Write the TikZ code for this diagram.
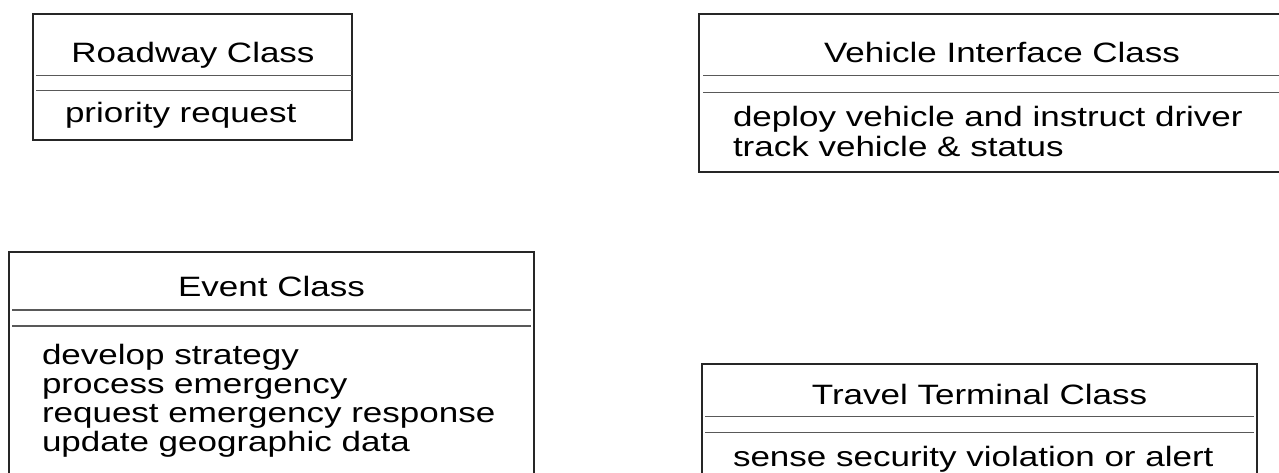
\documentclass[tikz,border=0pt]{standalone}
\usepackage{fontspec}
\setmainfont{Liberation Sans}[FakeStretch=1.25]

\begin{document}
\begin{tikzpicture}[x=1pt, y=-1pt,
            every node/.style={font=\fontsize{28}{29}\selectfont, inner sep=0pt, outer sep=0pt},
            frame/.style={draw=black!85, line width=1.3pt},
            sep/.style={draw=black!65, line width=1.4pt},
            ttl/.style={anchor=base},
            ops/.style={anchor=base west, align=left}
        ]
        \useasboundingbox (0,0) rectangle (1279,473);

        % ================= Roadway Class =================
        \draw[frame] (33,14) rectangle (352,140);
        \draw[sep] (36,75.7) -- (352,75.7);
        \draw[sep] (36,90.7) -- (352,90.7);
        \node[ttl] (road) at (193,62.5) {Roadway Class};
        \node[ops] (roadops) at (65,123) {priority request};

        % ================= Vehicle Interface Class =================
        % (base anchor of a multi-line node sits on its last line)
        \draw[frame] (699,14) rectangle (1305,172);
        \draw[sep] (703,75.7) -- (1302,75.7);
        \draw[sep] (703,92.7) -- (1302,92.7);
        \node[ttl] (veh) at (1002,62.5) {Vehicle Interface Class};
        \node[ops, font=\fontsize{28}{30}\selectfont] (vehops) at (733,157)
        {deploy vehicle and instruct driver\\track vehicle \& status};

        % ================= Event Class =================
        \draw[frame] (9,252) rectangle (534,490);
        \draw[sep] (12,310) -- (531,310);
        \draw[sep] (12,326) -- (531,326);
        \node[ttl] (event) at (271.5,296) {Event Class};
        \node[ops] (eventops) at (42,451.5)
        {develop strategy\\process emergency\\request emergency response\\update geographic data};

        % ================= Travel Terminal Class =================
        \draw[frame] (702,364) rectangle (1257,490);
        \draw[sep] (705,416.3) -- (1254,416.3);
        \draw[sep] (705,432.3) -- (1254,432.3);
        \node[ttl] (term) at (979.5,404.5) {Travel Terminal Class};
        \node[ops] (termops) at (733,466.5) {sense security violation or alert};

    \end{tikzpicture}
\end{document}
